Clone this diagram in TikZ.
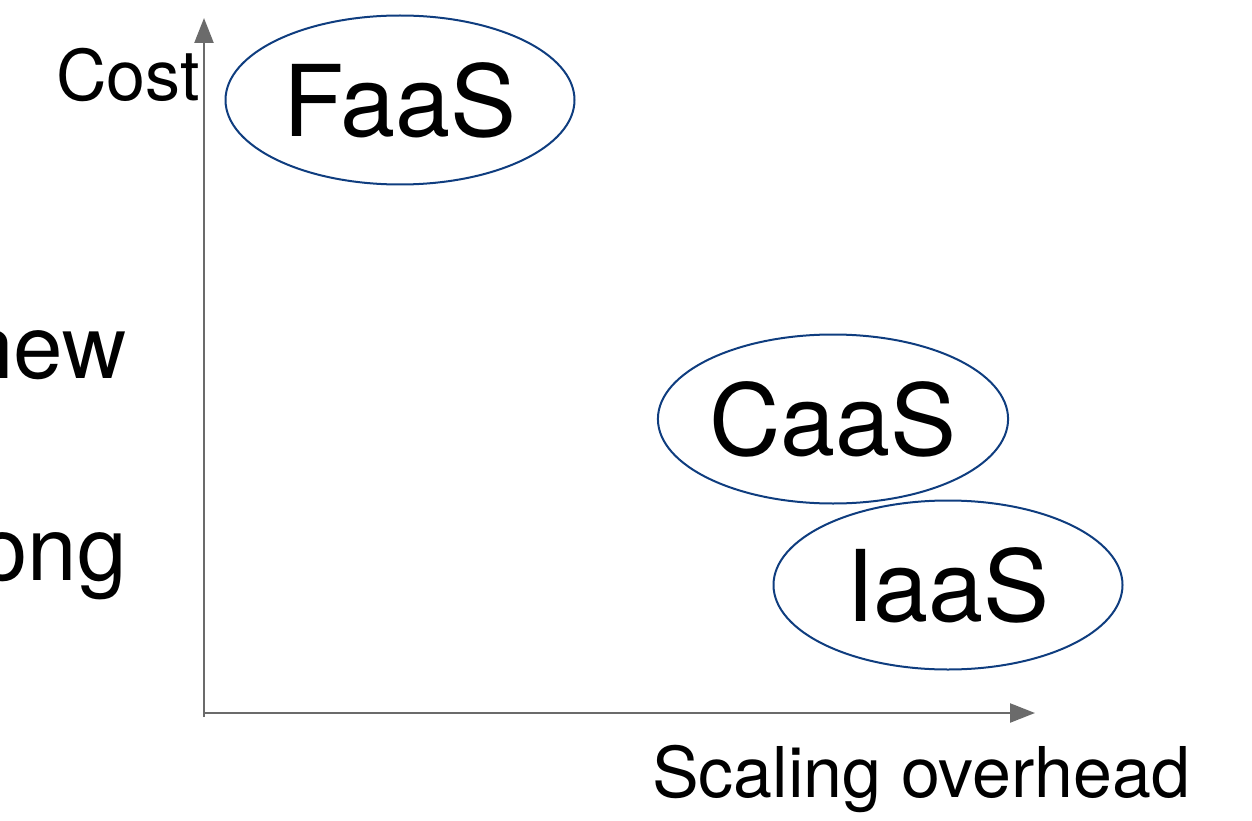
\documentclass[tikz,border=0pt]{standalone}
\usepackage{fontspec}
\setmainfont{TeX Gyre Heros}
\usetikzlibrary{arrows.meta,shapes.geometric}
\definecolor{axisgray}{HTML}{6B6B6B}
\definecolor{ellblue}{HTML}{0F3D7F}
\tikzset{
  axisline/.style={draw=axisgray,line width=2.4pt,-{Triangle[length=25pt,width=19pt]}},
  cloud/.style={ellipse,draw=ellblue,line width=2pt,minimum width=349pt,minimum height=169pt,inner sep=0pt,font=\fontsize{99}{102}\selectfont},
  lbl/.style={inner sep=0pt,font=\fontsize{70}{73}\selectfont},
  big/.style={inner sep=0pt,font=\fontsize{89}{92}\selectfont}
}
\begin{document}
\begin{tikzpicture}[x=1pt,y=-1pt]
\useasboundingbox (0,0) rectangle (1252,821);
\coordinate (O) at (204,713);
\coordinate (Ybot) at (204,717);
\coordinate (Ytop) at (204,18);
\coordinate (Xend) at (1035,713);
\draw[axisline] (Ybot) -- (Ytop);
\draw[axisline] (O) -- (Xend);
\node[cloud] (faas) at (400,100) {FaaS};
\node[cloud] (caas) at (833,419) {CaaS};
\node[cloud] (iaas) at (948,585) {IaaS};
\node[lbl,anchor=base east] (cost) at (200,101) {Cost};
\node[lbl,anchor=base west] (xlab) at (652,797) {Scaling overhead};
\node[big,anchor=base east] (new) at (127,378) {new};
\node[big,anchor=base east] (ong) at (127,580) {ong};
\end{tikzpicture}
\end{document}
